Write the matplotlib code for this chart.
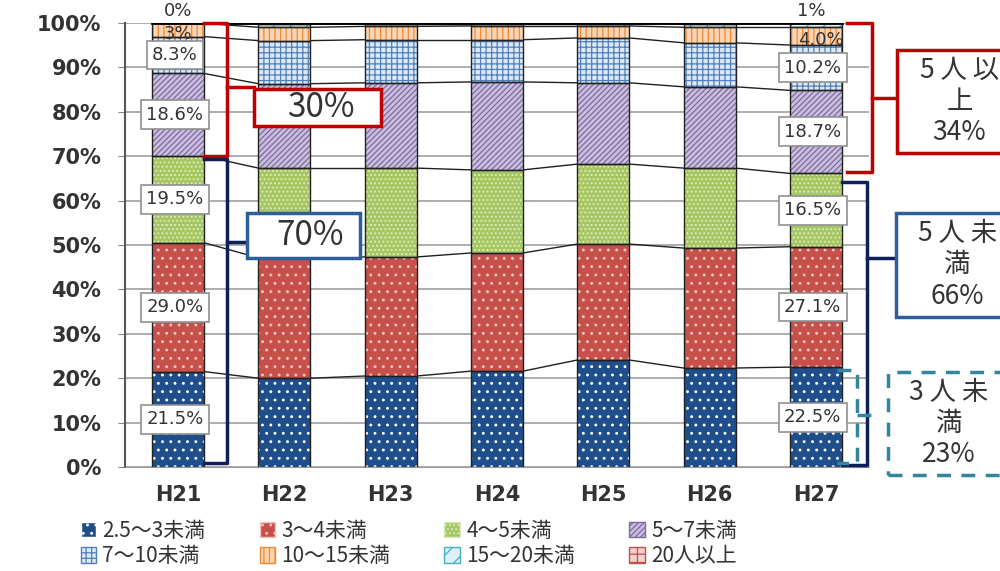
import numpy as np
import matplotlib.pyplot as plt
from matplotlib.patches import Patch, Rectangle

plt.rcParams['font.family'] = ['Noto Sans CJK JP', 'DejaVu Sans']
plt.rcParams['hatch.linewidth'] = 0.9

years = ['H21', 'H22', 'H23', 'H24', 'H25', 'H26', 'H27']
categories = ['2.5～3未満', '3～4未満', '4～5未満', '5～7未満',
              '7～10未満', '10～15未満', '15～20未満', '20人以上']
v_25_3 = [21.5, 20.0, 20.5, 21.6, 24.1, 22.3, 22.5]
v_3_4 = [29.0, 27.1, 26.8, 26.6, 26.1, 27.0, 27.1]
v_4_5 = [19.5, 20.2, 20.0, 18.7, 18.0, 18.0, 16.5]
v_5_7 = [18.6, 19.0, 19.2, 19.8, 18.3, 18.3, 18.7]
v_7_10 = [8.3, 9.7, 9.7, 9.5, 10.1, 9.9, 10.2]
v_10_15 = [3.0, 3.0, 3.0, 3.1, 2.7, 3.5, 4.0]
v_15_20 = [0.1, 0.7, 0.6, 0.5, 0.5, 0.7, 1.0]
v_20 = [0.0, 0.3, 0.2, 0.2, 0.2, 0.3, 0.0]

series = [v_25_3, v_3_4, v_4_5, v_5_7, v_7_10, v_10_15, v_15_20, v_20]
# face colour, hatch, hatch colour
styles = [('#1F4E8C', '..', 'white'),
          ('#C8504B', '..', '#F4C7C3'),
          ('#A6C662', '....', '#DCEBBE'),
          ('#C9BEDD', '//////', '#7E6A9E'),
          ('#DDE8F5', '+++', '#4F81BD'),
          ('#FBD5B5', '|||', '#F08A30'),
          ('#DDF0F5', '//', '#4BACC6'),
          ('#F2D0CF', '++', '#C0504D')]

fig = plt.figure(figsize=(10, 5.71), dpi=100)
ax = fig.add_axes([0.125, 0.182, 0.744, 0.778])

x = np.arange(len(years))
w = 0.49
bottom = np.zeros(len(years))
cums = []
handles = []
for vals, (fc, hatch, hc), name in zip(series, styles, categories):
    vals = np.array(vals)
    ax.bar(x, vals, w, bottom=bottom, color=fc, edgecolor=hc, linewidth=0,
           hatch=hatch, zorder=2)
    ax.bar(x, vals, w, bottom=bottom, fill=False, edgecolor='#202020',
           linewidth=1.0, zorder=3)
    bottom = bottom + vals
    cums.append(bottom.copy())
    handles.append(Patch(facecolor=fc, edgecolor=hc, hatch=hatch, label=name))

# series lines between bars
for c in cums:
    for i in range(len(years) - 1):
        ax.plot([x[i] + w / 2, x[i + 1] - w / 2], [c[i], c[i + 1]],
                color='#202020', lw=1.0, zorder=1)
ax.plot([x[0] - w / 2, x[-1] + w / 2], [100, 100], color='black', lw=2, zorder=4)

ax.set_xlim(-0.5, 6.5)
ax.set_ylim(0, 100)
ax.set_yticks(range(0, 101, 10))
ax.set_yticklabels([f'{t}%' for t in range(0, 101, 10)], fontsize=15,
                   fontweight='bold', color='#333333', family='DejaVu Sans')
ax.set_xticks(x)
ax.set_xticklabels(years, fontsize=15, fontweight='bold', color='#333333',
                   family='DejaVu Sans')
ax.tick_params(axis='y', length=5, color='#888888', pad=12)
ax.tick_params(axis='x', length=0, pad=13)
ax.grid(axis='y', color='#A0A0A0', lw=1.2, zorder=0)
ax.set_axisbelow(True)
for s in ['top', 'right']:
    ax.spines[s].set_visible(False)
ax.spines['left'].set_color('#555555')
ax.spines['left'].set_linewidth(1.5)
ax.spines['bottom'].set_color('#999999')

# segment labels for first and last year
box = dict(boxstyle='square,pad=0.3', fc='white', ec='#909090', lw=1.2)
for idx in [0, 6]:
    low = 0
    for k in range(5):
        val = series[k][idx]
        ax.text(x[idx] - 0.03, low + val / 2, f'{val:.1f}%', ha='center',
                va='center', fontsize=13, color='#333333', bbox=box, zorder=6,
                family='DejaVu Sans')
        low += val
ax.text(x[0], 100.6, '0%', ha='center', va='bottom', fontsize=13, color='#333333',
        family='DejaVu Sans', clip_on=False, zorder=6)
ax.text(x[0], cums[4][0] + v_10_15[0] / 2 - 1.0, f'{v_10_15[0]:.0f}%', ha='center',
        va='center', fontsize=13, color='#333333', family='DejaVu Sans', zorder=6)
ax.text(x[6] - 0.04, 100.6, f'{v_15_20[6]:.0f}%', ha='center', va='bottom',
        fontsize=13, color='#333333', family='DejaVu Sans', clip_on=False, zorder=6)
ax.text(x[6] + 0.05, cums[4][6] + v_10_15[6] / 2 - 0.8, f'{v_10_15[6]:.1f}%',
        ha='center', va='center', fontsize=13, color='#333333',
        family='DejaVu Sans', zorder=6)

red = '#C00000'
navy = '#0F1F5C'
teal = '#31859C'
blue_edge = '#2E5E9A'


def bracket(xv, y0, y1, ymid, xin, xout, color, ls='-'):
    kw = dict(color=color, lw=2.5, ls=ls, clip_on=False, zorder=7)
    ax.plot([xin, xv, xv, xin], [y1, y1, y0, y0], **kw)
    ax.plot([xv, xout], [ymid, ymid], **kw)


def label_box(x0, x1, y0, y1, text, cx, color, fs, ls='-'):
    ax.add_patch(Rectangle((x0, y0), x1 - x0, y1 - y0, fc='white', ec=color,
                           lw=2.5, ls=ls, clip_on=False, zorder=8))
    ax.text(cx, (y0 + y1) / 2, text, ha='center', va='center', fontsize=fs,
            color='#333333', linespacing=1.2, clip_on=False, zorder=9)


lower_21 = cums[2][0]
lower_27 = cums[2][6]
bracket(0.46, lower_21, 100, 85.5, 0.24, 0.71, red)
bracket(0.46, 1.0, lower_21 - 0.7, 50.6, 0.24, 0.65, navy)
bracket(6.53, lower_27 + 0.3, 100, 83.1, 6.29, 6.76, red)
bracket(6.48, 0.5, lower_27 - 1.9, 47.1, 6.25, 6.75, navy)
bracket(6.39, 0.9, cums[0][6] - 0.7, 11.7, 6.2, 6.6, teal, ls=(0, (4, 3)))

label_box(0.71, 1.91, 76.8, 85.1, f'{100 - lower_21:.0f}%', 1.34, red, 24)
label_box(0.65, 1.71, 47.1, 57.2, f'{lower_21:.0f}%', 1.24, blue_edge, 24)
label_box(6.76, 7.9, 70.7, 93.9, '5 人 以\n上\n34%', 7.35, red, 19)
label_box(6.75, 7.9, 33.8, 57.2, '5 人 未\n満\n66%', 7.33, blue_edge, 19)
label_box(6.68, 7.9, -1.8, 21.4, '3 人 未\n満\n23%', 7.25, teal, 19,
          ls=(0, (4, 3)))

order = [0, 4, 1, 5, 2, 6, 3, 7]
fig.legend([handles[i] for i in order], [categories[i] for i in order], ncol=4,
           loc='upper left', bbox_to_anchor=(0.068, 0.111), frameon=False,
           fontsize=15, handlelength=0.75, handleheight=0.75, handletextpad=0.3,
           columnspacing=2.6, labelspacing=0.15, labelcolor='#333333',
           borderaxespad=0.2)

fig.savefig('out.png', dpi=100)
